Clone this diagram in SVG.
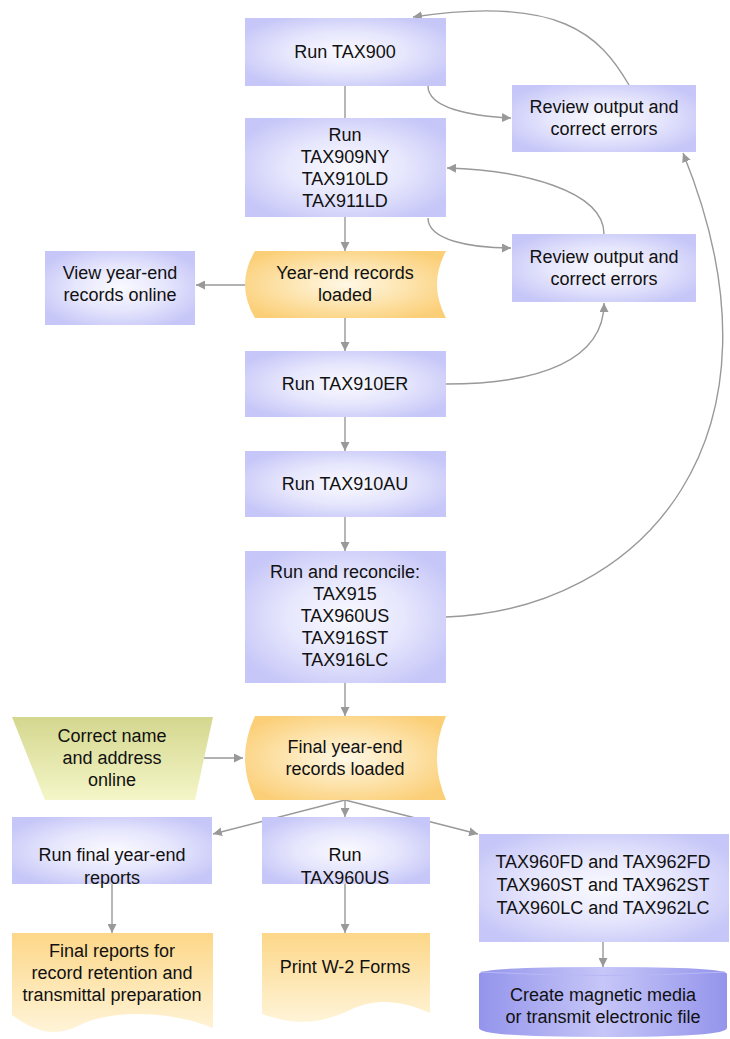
<svg xmlns="http://www.w3.org/2000/svg" width="730" height="1039" viewBox="0 0 730 1039">
<style>
text{font-family:"Liberation Sans",Arial,sans-serif;font-size:18px;fill:#111;text-anchor:middle}
.blue{fill:url(#gBlue)}
.orange{fill:url(#gOrange)}
.doc{fill:url(#gDoc)}
.green{fill:url(#gGreen)}
.cyl{fill:url(#gCyl)}
.con path,.con line{stroke:#999;stroke-width:1.4;fill:none}
.arr{marker-end:url(#ah)}
</style>
<defs>
<radialGradient id="gBlue" cx="0.5" cy="0.5" r="0.6">
<stop offset="0" stop-color="#fafaff"/>
<stop offset="0.5" stop-color="#e6e6fd"/>
<stop offset="1" stop-color="#c6c6f8"/>
</radialGradient>
<radialGradient id="gOrange" cx="0.5" cy="0.5" r="0.6">
<stop offset="0" stop-color="#fff8e6"/>
<stop offset="0.5" stop-color="#fde4ae"/>
<stop offset="1" stop-color="#fbcf78"/>
</radialGradient>
<linearGradient id="gDoc" x1="0" y1="0" x2="0" y2="1">
<stop offset="0" stop-color="#fcd788"/>
<stop offset="1" stop-color="#fff4d8"/>
</linearGradient>
<linearGradient id="gGreen" x1="0" y1="0" x2="0" y2="1">
<stop offset="0" stop-color="#d4d78e"/>
<stop offset="1" stop-color="#f4f6c8"/>
</linearGradient>
<linearGradient id="gCyl" x1="0" y1="0" x2="1" y2="0">
<stop offset="0" stop-color="#9494ec"/>
<stop offset="0.5" stop-color="#c6c6f8"/>
<stop offset="1" stop-color="#9494ec"/>
</linearGradient>
<marker id="ah" viewBox="0 0 10 10" refX="10" refY="5" markerWidth="9" markerHeight="9" markerUnits="userSpaceOnUse" orient="auto">
<path d="M0,0 L10,5 L0,10 Z" fill="#999"/>
</marker>
</defs>

<g id="connectors" class="con">
<line x1="345" y1="86" x2="345" y2="118"/>
<line class="arr" x1="345" y1="217" x2="345" y2="251"/>
<line class="arr" x1="245" y1="285" x2="196" y2="285"/>
<line class="arr" x1="345" y1="318" x2="345" y2="351"/>
<line class="arr" x1="345" y1="417" x2="345" y2="451"/>
<line class="arr" x1="345" y1="517" x2="345" y2="551"/>
<line class="arr" x1="345" y1="683" x2="345" y2="716"/>
<line class="arr" x1="197" y1="758" x2="243" y2="758"/>
<line class="arr" x1="345" y1="800" x2="213" y2="834"/>
<line class="arr" x1="345" y1="800" x2="345" y2="817"/>
<line class="arr" x1="345" y1="800" x2="478" y2="834"/>
<line class="arr" x1="112" y1="884" x2="112" y2="933"/>
<line class="arr" x1="345" y1="884" x2="345" y2="933"/>
<line class="arr" x1="603" y1="942" x2="603" y2="967"/>
<path class="arr" d="M428,86 C428,108 470,116 511,118"/>
<path class="arr" d="M629,85 C600,35 560,-5 413,17"/>
<path class="arr" d="M428,218 C428,240 470,248 511,248"/>
<path class="arr" d="M604,234 C604,190 520,170 447,168"/>
<path class="arr" d="M446,384 C540,384 604,360 604,303"/>
<path class="arr" d="M446,617 C640,610 800,440 683,153"/>
</g>

<g id="n-tax900"><rect class="blue" x="245" y="18" width="201" height="68"/><text x="345" y="58">Run TAX900</text></g>
<g id="n-review1"><rect class="blue" x="512" y="85" width="184" height="67"/><text x="604" y="113">Review output and</text><text x="604" y="135">correct errors</text></g>
<g id="n-tax909"><rect class="blue" x="245" y="118" width="201" height="99"/><text x="345" y="141">Run</text><text x="345" y="163">TAX909NY</text><text x="345" y="185">TAX910LD</text><text x="345" y="207">TAX911LD</text></g>
<g id="n-review2"><rect class="blue" x="512" y="234" width="184" height="68"/><text x="604" y="263">Review output and</text><text x="604" y="285">correct errors</text></g>
<g id="n-view"><rect class="blue" x="45" y="251" width="150" height="74"/><text x="120" y="279">View year-end</text><text x="120" y="301">records online</text></g>
<g id="n-yearend"><path class="orange" d="M255,251 L446,251 Q428,284.5 446,318 L255,318 Q235,284.5 255,251 Z"/><text x="345" y="279">Year-end records</text><text x="345" y="301">loaded</text></g>
<g id="n-tax910er"><rect class="blue" x="245" y="351" width="201" height="66"/><text x="345" y="390">Run TAX910ER</text></g>
<g id="n-tax910au"><rect class="blue" x="245" y="451" width="201" height="66"/><text x="345" y="490">Run TAX910AU</text></g>
<g id="n-reconcile"><rect class="blue" x="245" y="551" width="201" height="132"/><text x="345" y="578">Run and reconcile:</text><text x="345" y="600">TAX915</text><text x="345" y="622">TAX960US</text><text x="345" y="644">TAX916ST</text><text x="345" y="666">TAX916LC</text></g>
<g id="n-correct"><path class="green" d="M12,717 L213,717 L195,800 L45,800 Z"/><text x="112" y="742">Correct name</text><text x="112" y="764">and address</text><text x="112" y="786">online</text></g>
<g id="n-final"><path class="orange" d="M255,716 L446,716 Q428,758 446,800 L255,800 Q235,758 255,716 Z"/><text x="345" y="753">Final year-end</text><text x="345" y="775">records loaded</text></g>
<g id="n-finalreports"><rect class="blue" x="12" y="817" width="200" height="67"/><text x="112" y="861">Run final year-end</text><text x="112" y="884">reports</text></g>
<g id="n-tax960us"><rect class="blue" x="262" y="817" width="168" height="67"/><text x="345" y="861">Run</text><text x="345" y="884">TAX960US</text></g>
<g id="n-tax960fd"><rect class="blue" x="479" y="834" width="250" height="108"/><text x="603" y="868">TAX960FD and TAX962FD</text><text x="603" y="891">TAX960ST and TAX962ST</text><text x="603" y="914">TAX960LC and TAX962LC</text></g>
<g id="n-reportsdoc"><path class="doc" d="M12,933 L213,933 L213,1028 C170,1010 110,1010 80,1025 C55,1038 35,1032 12,1015 Z"/><text x="112" y="957">Final reports for</text><text x="112" y="979">record retention and</text><text x="112" y="1001">transmittal preparation</text></g>
<g id="n-w2"><path class="doc" d="M262,933 L430,933 L430,1013 C400,1000 375,998 350,1010 C320,1024 295,1026 262,1014 Z"/><text x="345" y="973">Print W-2 Forms</text></g>
<g id="n-media"><path class="cyl" d="M479,974 Q479,967 603,967 Q727,967 727,974 L727,1028 Q727,1037 603,1037 Q479,1037 479,1028 Z"/><path d="M481,972 Q603,979 725,972" fill="none" stroke="#b8b8f6" stroke-width="1"/><text x="603" y="1001">Create magnetic media</text><text x="603" y="1023">or transmit electronic file</text></g>
</svg>
